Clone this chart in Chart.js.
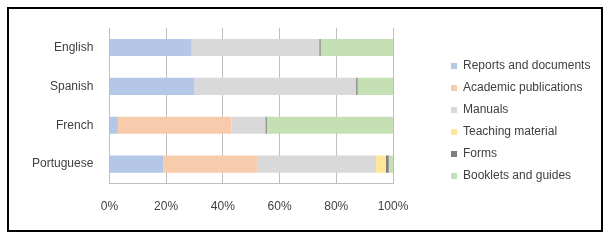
<!DOCTYPE html>
<html>
<head>
<meta charset="utf-8">
<script src="https://cdn.jsdelivr.net/npm/chart.js@4.4.1/dist/chart.umd.min.js"></script>
<style>
  html, body { margin: 0; padding: 0; background: #fff; }
  #wrap { position: relative; width: 614px; height: 244px; }
  #frame { position: absolute; left: 7px; top: 7px; width: 596px; height: 225px; border: 2px solid #000; box-sizing: border-box; pointer-events: none; }
  canvas { position: absolute; left: 0; top: 0; }
</style>
</head>
<body>
<div id="wrap">
  <canvas id="chart" width="614" height="244"></canvas>
  <div id="frame"></div>
</div>
<script>
const languages = ['English', 'Spanish', 'French', 'Portuguese'];
const seriesNames = ['Reports and documents', 'Academic publications', 'Manuals', 'Teaching material', 'Forms', 'Booklets and guides'];
const seriesColors = ['#b4c7e7', '#f8cbad', '#d9d9d9', '#ffe699', '#7f7f7f', '#c5e0b4'];

// share of each document type per language (%)
const reports   = [29, 30, 3, 19];
const academic  = [0, 0, 40, 33];
const manuals   = [45, 57, 12, 42];
const teaching  = [0, 0, 0, 3.5];
const forms     = [0.5, 0.5, 0.5, 1];
const booklets  = [25.5, 12.5, 44.5, 1.5];

const xTicks = [0, 20, 40, 60, 80, 100];

const values = [reports, academic, manuals, teaching, forms, booklets];

// widen the legend box so the plot stops near 100%, then draw the items further right
const legendGap = {
    id: 'legendGap',
    beforeInit(chart) {
        const fit = chart.legend.fit;
        chart.legend.fit = function () {
            fit.bind(chart.legend)();
            this.width += 66;
        };
    },
    afterLayout(chart) {
        chart.legend.left += 48;
        chart.legend.top -= 8;
        chart.legend.bottom -= 8;
    }
};

new Chart(document.getElementById('chart'), {
    type: 'bar',
    data: {
        labels: languages,
        datasets: seriesNames.map((name, i) => ({
            label: name,
            data: values[i],
            backgroundColor: seriesColors[i],
            borderWidth: 0,
            barPercentage: 0.44,
            categoryPercentage: 1
        }))
    },
    plugins: [legendGap],
    options: {
        indexAxis: 'y',
        responsive: false,
        animation: false,
        layout: { padding: { top: 28, bottom: 14, left: 24, right: 10 } },
        scales: {
            x: {
                stacked: true,
                min: 0,
                max: 100,
                afterBuildTicks(scale) {
                    scale.ticks = xTicks.map(v => ({ value: v }));
                },
                grid: { color: '#bfbfbf', drawTicks: false },
                border: { color: '#bfbfbf' },
                ticks: {
                    padding: 16,
                    color: '#404040',
                    font: { family: 'Liberation Sans', size: 12 },
                    callback: v => v + '%'
                }
            },
            y: {
                stacked: true,
                grid: { display: false },
                border: { color: '#bfbfbf' },
                ticks: {
                    padding: 8,
                    color: '#404040',
                    font: { family: 'Liberation Sans', size: 12 }
                }
            }
        },
        plugins: {
            legend: {
                position: 'right',
                labels: {
                    boxWidth: 6,
                    boxHeight: 6,
                    padding: 10,
                    color: '#404040',
                    font: { family: 'Liberation Sans', size: 12 }
                }
            },
            tooltip: { enabled: false }
        }
    }
});
</script>
</body>
</html>
